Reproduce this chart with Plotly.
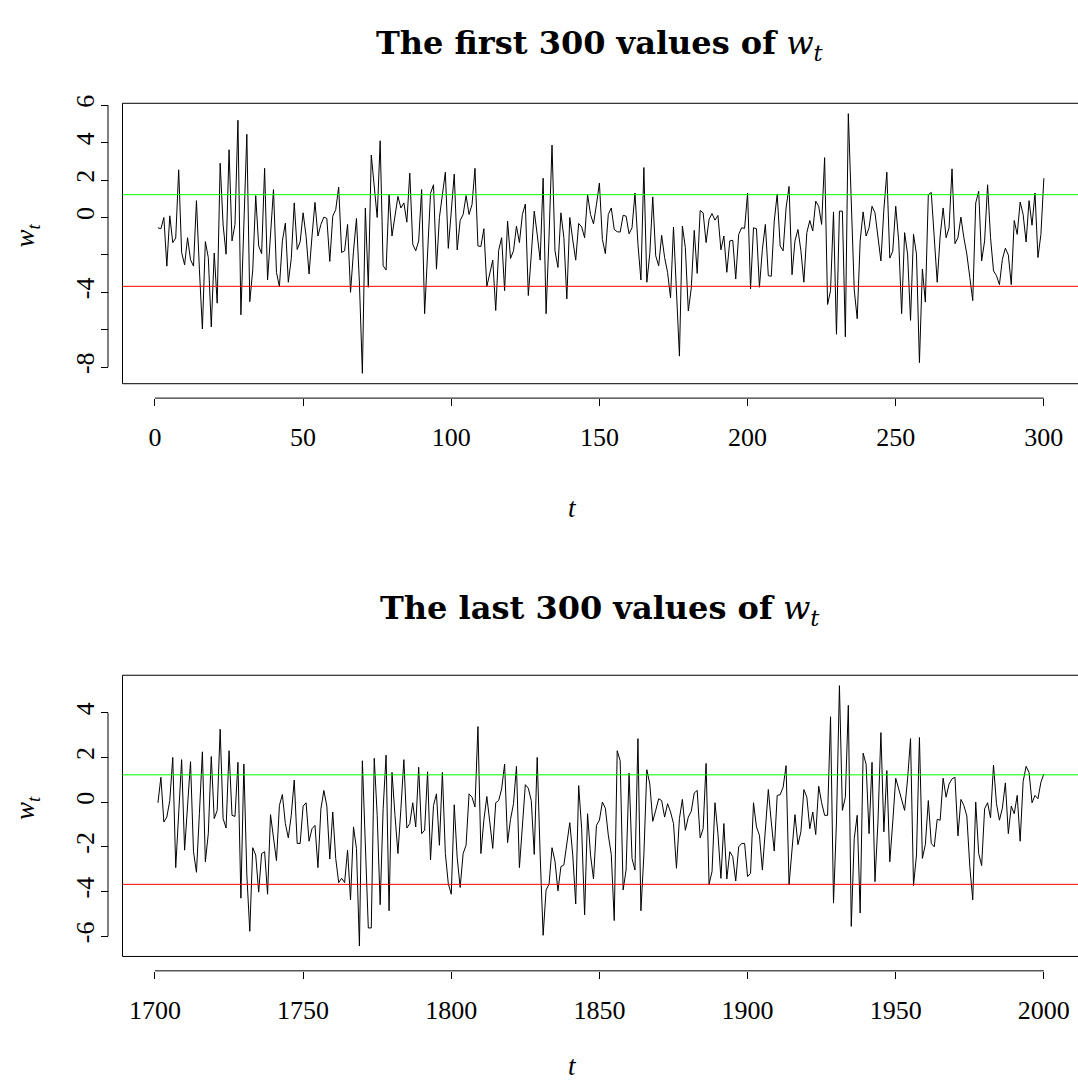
import plotly.graph_objects as go

# ---- data -------------------------------------------------------------
t_first = list(range(1, 301))
w_first = [
    -0.55, -0.6, 0.0, -2.6, 0.09, -1.34, -1.1, 2.55, -1.87, -2.53,
    -1.08, -2.26, -2.6, 0.9, -2.8, -5.96, -1.29, -2.14, -5.85, -1.9,
    -4.58, 2.9, -0.4, -1.96, 3.62, -1.25, -0.37, 5.2, -5.2, -0.5,
    4.45, -4.5, -2.8, 1.17, -1.52, -1.93, 2.63, -3.34, -1.0, 1.49,
    -2.93, -3.7, -1.25, -0.3, -3.46, -2.2, 0.78, -1.71, -1.3, 0.25,
    -1.0, -3.02, -1.0, 0.81, -0.99, -0.37, 0.02, -0.05, -2.35, 0.07,
    0.42, 1.63, -1.87, -1.78, -0.37, -4.0, -1.8, -0.05, -3.5, -8.33,
    0.51, -3.73, 3.34, 1.5, 0.0, 4.1, -2.58, -2.81, 1.22, -0.99,
    0.2, 1.13, 0.51, 0.78, -0.25, 2.37, -1.43, -1.78, -1.25, 1.49,
    -5.14, -1.5, 1.29, 1.75, -2.76, 0.0, 1.2, 2.42, -1.65, 0.3,
    2.32, -1.73, -0.16, 0.16, 1.17, 0.16, 0.69, 2.63, -1.52, -1.55,
    -0.6, -3.69, -2.9, -2.28, -4.97, -1.75, -1.08, -3.91, -0.19, -2.19,
    -1.78, -0.46, -1.34, 0.16, 0.72, -4.17, -2.0, 0.34, -0.9, -2.28,
    2.1, -5.14, -1.0, 3.87, -1.78, -2.67, 0.25, -1.08, -4.35, 0.0,
    -1.2, -2.28, -0.32, -0.5, -1.08, 1.22, 0.16, -0.34, 0.7, 1.84,
    -1.17, -1.93, 0.16, 0.51, -0.64, -0.76, -0.78, 0.12, 0.07, -0.87,
    -0.55, 1.31, -1.43, -3.34, 2.67, -3.46, -1.93, 1.1, -2.05, -2.58,
    -0.95, -2.14, -2.93, -4.3, -0.51, -4.0, -7.41, -0.46, -1.61, -5.0,
    -3.78, -0.69, -2.99, 0.37, 0.25, -1.34, -0.1, 0.21, -0.14, 0.11,
    -1.73, -0.99, -2.93, -1.25, -1.22, -3.29, -0.9, -0.55, -0.58, 1.31,
    -3.82, -0.55, -0.6, -3.73, -1.7, -0.37, -3.11, -3.14, -0.19, 1.26,
    -1.52, -1.78, 0.51, 1.66, -3.06, -1.25, -0.64, -1.78, -3.46, -0.81,
    -0.16, -0.72, 0.87, 0.6, -0.37, 3.2, -4.65, -3.91, 0.3, -6.24,
    0.34, 0.34, -6.38, 5.55, 0.51, -3.87, -5.41, -1.25, 0.3, -0.99,
    -0.55, 0.6, 0.25, -0.99, -2.32, 0.42, 2.42, -2.17, -1.8, 0.6,
    -1.25, -5.14, -0.81, -1.96, -5.5, -0.9, -1.96, -7.76, -2.76, -4.52,
    1.22, 1.34, -1.34, -3.46, -0.99, 0.51, -1.08, -0.55, 2.6, -1.4,
    -1.08, 0.02, -1.08, -1.96, -3.2, -4.44, 0.78, 1.4, -2.32, -1.25,
    1.75, -1.08, -2.85, -3.11, -3.59, -2.23, -1.64, -2.0, -3.59, -0.16,
    -0.9, 0.83, 0.16, -1.31, 0.9, -0.41, 1.31, -2.14, -0.9, 2.1,
]

t_last = list(range(1701, 2001))
w_last = [
    -0.03, 1.11, -0.89, -0.67, 0.07, 2.0, -2.93, -0.5, 1.9, -2.15,
    -0.2, 1.81, -2.22, -3.14, -0.5, 2.25, -2.67, -1.41, 2.04, -0.74,
    -0.37, 3.26, -0.74, -1.16, 2.3, -0.59, -0.64, 1.78, -4.3, 1.7,
    -3.26, -5.78, -2.04, -2.37, -4.03, -2.3, -2.22, -4.12, -0.56, -1.56,
    -2.62, -0.15, 0.34, -0.96, -1.6, -0.59, 0.99, -1.85, -1.85, -0.18,
    -0.03, -1.75, -1.19, -1.04, -2.93, -0.3, 0.52, -0.18, -2.55, -0.44,
    -2.52, -3.6, -3.41, -3.6, -2.15, -4.37, -1.11, -2.07, -6.44, 1.85,
    -2.07, -5.63, -5.63, 1.96, -0.59, -4.59, -0.3, 2.1, -4.86, 1.33,
    -0.59, -2.3, -0.3, 1.9, -1.16, -0.96, -0.03, -1.11, 1.56, -1.41,
    -1.26, 1.36, -2.59, -0.15, 0.37, -1.93, 1.33, -2.3, -3.65, -4.12,
    -0.12, -2.49, -3.82, -2.3, -1.93, 0.37, 0.22, -0.22, 3.38, -2.3,
    -0.81, 0.25, -0.89, -2.07, -0.03, 0.07, 0.59, 1.7, -1.81, -0.77,
    -0.07, 1.6, -2.93, -0.89, 0.78, 0.62, 0.07, -2.34, 2.0, -2.37,
    -5.96, -3.93, -3.67, -2.04, -2.64, -3.97, -2.89, -2.81, -1.75, -0.92,
    -2.37, -4.56, 0.74, -1.19, -5.04, -0.52, -2.37, -3.44, -1.04, -0.81,
    0.0, -0.27, -1.48, -2.34, -5.3, 2.3, 1.85, -3.93, -3.04, 1.3,
    -2.52, -3.04, 2.84, -4.86, -2.37, 1.45, 0.81, -0.86, -0.37, 0.15,
    0.07, -0.67, -0.07, -0.44, -0.96, -2.96, -0.74, 0.12, -1.26, -0.67,
    -0.41, 0.41, 0.52, -1.6, -1.19, 1.73, -3.67, -3.11, -0.03, -1.41,
    -3.41, -0.96, -3.44, -2.22, -2.44, -3.53, -2.0, -1.85, -1.85, -3.33,
    -3.19, -0.03, -1.11, -1.48, -3.04, -1.26, 0.56, -0.89, -2.19, 0.3,
    0.33, 0.67, 1.63, -3.7, -1.93, -0.56, -1.9, -1.33, 0.56, 0.22,
    -1.19, -0.44, -1.45, 0.71, -0.03, -0.59, -0.59, 3.82, -4.52, -0.89,
    5.21, -0.37, 0.22, 4.33, -5.56, -1.63, -0.59, -4.96, 2.19, 1.7,
    -1.41, 1.78, -3.56, -0.89, 3.11, -1.33, 1.41, -2.67, -0.89, 1.07,
    0.59, 0.07, -0.37, 1.04, 2.84, -3.73, -2.37, 2.89, -2.52, -1.9,
    0.07, -1.85, -2.0, -0.77, -0.81, 1.07, 0.22, 0.81, 1.04, 1.11,
    -1.51, 0.12, -0.15, -0.62, -2.89, -4.37, 0.0, -2.3, -2.84, -0.3,
    -0.03, -0.71, 1.66, -0.07, -0.81, -0.27, 0.86, -1.41, -0.18, -0.52,
    0.3, -1.75, 0.92, 1.6, 1.33, -0.03, 0.3, 0.15, 0.89, 1.26,
]

upper_band = 1.22
lower_band = -3.68

x_ticks_first = [0, 50, 100, 150, 200, 250, 300]
x_ticks_last = [1700, 1750, 1800, 1850, 1900, 1950, 2000]
y_ticks_first = [-8, -6, -4, -2, 0, 2, 4, 6]
y_labels_first = ["-8", "", "-4", "", "0", "2", "4", "6"]
y_ticks_last = [-6, -4, -2, 0, 2, 4]
y_labels_last = ["-6", "-4", "-2", "0", "2", "4"]

titles = ["<b>The first 300 values of</b> <i>w</i><sub><i>t</i></sub>",
          "<b>The last 300 values of</b> <i>w</i><sub><i>t</i></sub>"]

# ---- layout helpers (pixel geometry of the page) -----------------------
W, H = 1078, 1086
FONT = "Liberation Serif"
TITLE_FONT = "DejaVu Serif"
px_x = lambda p: p / W
px_y = lambda p: 1 - p / H

BOX_LEFT = 122.5
PX_PER_T = 2.963


def padded(vals):
    lo, hi = min(vals), max(vals)
    pad = 0.04 * (hi - lo)
    return [lo - pad, hi + pad]


panels = [
    dict(t=t_first, w=w_first, xt=x_ticks_first, yt=y_ticks_first, yl=y_labels_first,
         box_top=96.0, box_bot=378.5, title_y=37, xlab_y=504, n=1),
    dict(t=t_last, w=w_last, xt=x_ticks_last, yt=y_ticks_last, yl=y_labels_last,
         box_top=672.2, box_bot=955.5, title_y=606, xlab_y=1066, n=2),
]

fig = go.Figure()
shapes = []
annotations = []
layout_axes = {}

for i, p in enumerate(panels):
    xa = "x" if p["n"] == 1 else "x2"
    ya = "y" if p["n"] == 1 else "y2"
    xkey = "xaxis" if p["n"] == 1 else "xaxis2"
    ykey = "yaxis" if p["n"] == 1 else "yaxis2"

    t0 = p["t"][0] - 0.04 * (p["t"][-1] - p["t"][0])
    t1 = t0 + (W - BOX_LEFT) / PX_PER_T
    yr = padded(p["w"])

    fig.add_trace(go.Scatter(x=p["t"], y=p["w"], mode="lines",
                             line=dict(color="black", width=1),
                             xaxis=xa, yaxis=ya, showlegend=False,
                             hoverinfo="skip"))

    axis_x_line = p["box_bot"] + 14.5
    axis_y_line = BOX_LEFT - 14.5

    layout_axes[xkey] = dict(
        domain=[px_x(BOX_LEFT), 1.0], range=[t0, t1], anchor="free",
        position=px_y(axis_x_line), showgrid=False, zeroline=False,
        showline=False, ticks="outside", ticklen=7, tickwidth=1,
        tickcolor="black", tickvals=p["xt"], ticktext=[str(v) for v in p["xt"]],
        tickfont=dict(family=FONT, size=26, color="black"),
        ticklabelstandoff=9,
    )
    layout_axes[ykey] = dict(
        domain=[px_y(p["box_bot"]), px_y(p["box_top"])], range=yr,
        anchor="free", position=px_x(axis_y_line), showgrid=False,
        zeroline=False, showline=False, ticks="outside", ticklen=7,
        tickwidth=1, tickcolor="black", tickvals=p["yt"], ticktext=p["yl"],
        tickangle=-90, tickfont=dict(family=FONT, size=26, color="black"),
        ticklabelstandoff=-3,
    )

    # plot frame (right edge lies just past the page)
    shapes.append(dict(type="rect", xref="paper", yref="paper",
                       x0=px_x(BOX_LEFT), x1=px_x(W + 1.5),
                       y0=px_y(p["box_bot"]), y1=px_y(p["box_top"]),
                       line=dict(color="black", width=1)))
    # axis lines spanning the tick range
    shapes.append(dict(type="line", xref=xa, yref="paper",
                       x0=p["xt"][0], x1=p["xt"][-1],
                       y0=px_y(axis_x_line), y1=px_y(axis_x_line),
                       line=dict(color="black", width=1)))
    shapes.append(dict(type="line", xref="paper", yref=ya,
                       x0=px_x(axis_y_line), x1=px_x(axis_y_line),
                       y0=p["yt"][0], y1=p["yt"][-1],
                       line=dict(color="black", width=1)))
    # reference levels
    shapes.append(dict(type="line", xref=xa + " domain", yref=ya,
                       x0=0, x1=1, y0=upper_band, y1=upper_band,
                       line=dict(color="#00ff00", width=1)))
    shapes.append(dict(type="line", xref=xa + " domain", yref=ya,
                       x0=0, x1=1, y0=lower_band, y1=lower_band,
                       line=dict(color="#ff0000", width=1)))

    annotations.append(dict(text=titles[i], xref="paper", yref="paper",
                            x=px_x(600), y=px_y(p["title_y"]),
                            showarrow=False, xanchor="center", yanchor="middle",
                            font=dict(family=TITLE_FONT, size=32, color="black")))
    annotations.append(dict(text="<i>t</i>", xref="paper", yref="paper",
                            x=px_x(572), y=px_y(p["xlab_y"]),
                            showarrow=False, xanchor="center", yanchor="middle",
                            font=dict(family=FONT, size=27, color="black")))
    annotations.append(dict(text="<i>w</i><sub><i>t</i></sub>", xref="paper",
                            yref="paper", x=px_x(27),
                            y=px_y((p["box_top"] + p["box_bot"]) / 2 - 8),
                            textangle=-90, showarrow=False, xanchor="center",
                            yanchor="middle",
                            font=dict(family=FONT, size=27, color="black")))

fig.update_layout(
    width=W, height=H, autosize=False,
    margin=dict(l=0, r=0, t=0, b=0, pad=0),
    paper_bgcolor="white", plot_bgcolor="white",
    shapes=shapes, annotations=annotations, **layout_axes,
)

fig.write_html("out.html")
